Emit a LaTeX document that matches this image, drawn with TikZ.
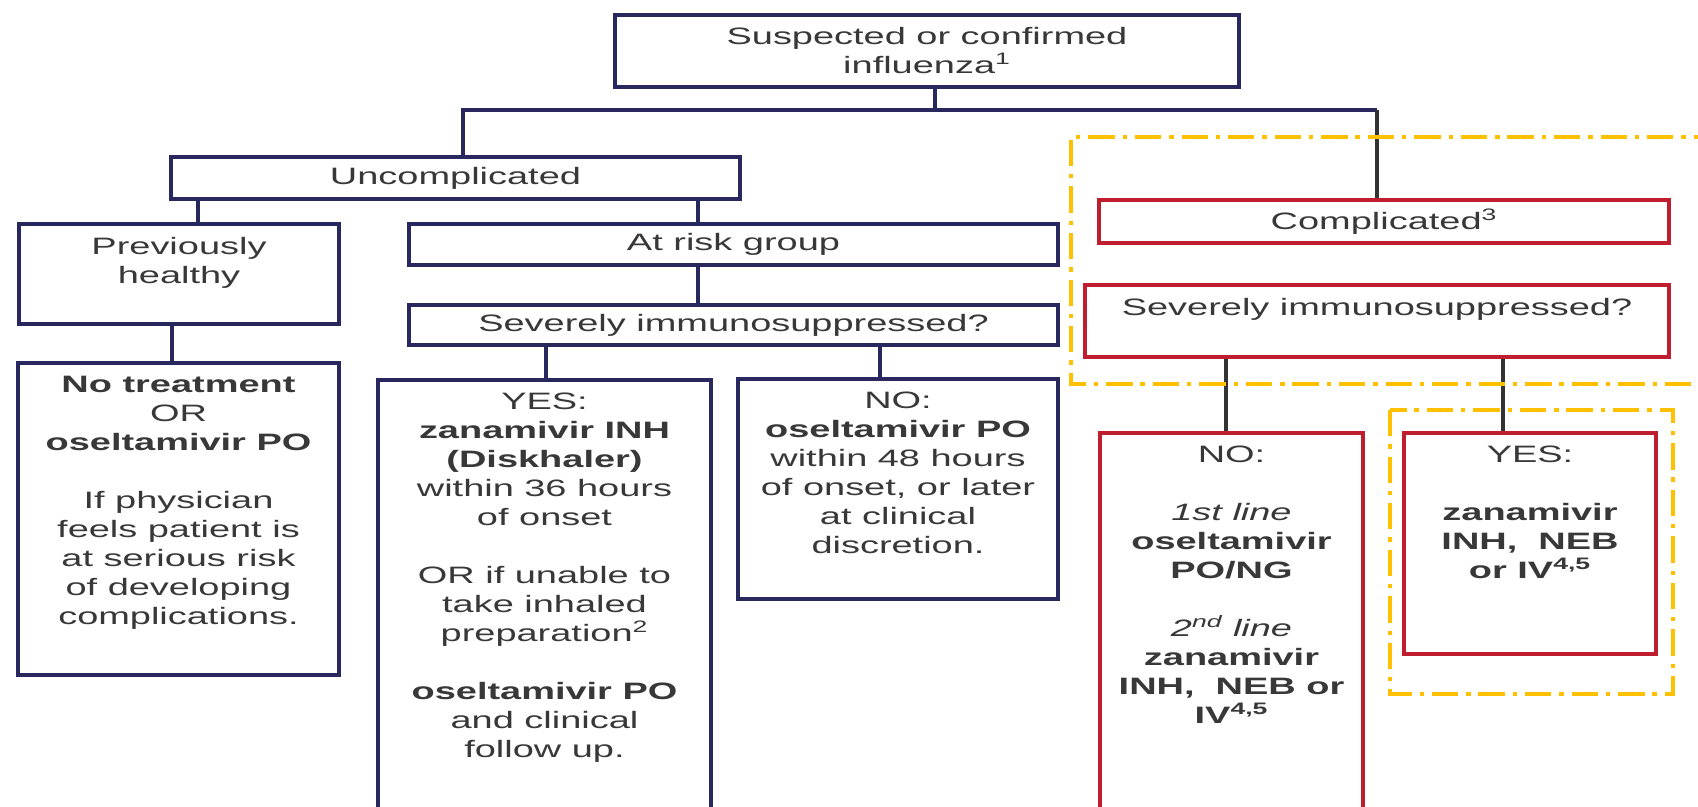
\documentclass[tikz,border=0pt]{standalone}
\usepackage{fontspec}
\setmainfont[FakeStretch=1.6]{Liberation Sans}
\usetikzlibrary{positioning}

\definecolor{fluNavy}{HTML}{28285F}
\definecolor{fluRed}{HTML}{BE1E2D}
\definecolor{fluAmber}{HTML}{FFC000}

\tikzset{
    bluebox/.style={draw=fluNavy, line width=2.4pt, fill=white},
    redbox/.style={draw=fluRed, line width=2.4pt, fill=white},
    txt/.style={align=center, inner sep=0pt, text=black!78, font=\fontsize{13.5}{16.5}\selectfont},
    bline/.style={draw=fluNavy, line width=1.8pt},
    gline/.style={draw=black!80, line width=1.8pt},
    zone/.style={draw=fluAmber, line width=2.2pt, dash pattern=on 15pt off 4.5pt on 2.5pt off 4.5pt}
}

\begin{document}
\begin{tikzpicture}[x=0.02cm, y=-0.02cm]

    % the frame
    \useasboundingbox (0,0) rectangle (1698,806);
    \path[clip] (0,0) rectangle (1698,806);

    % the boxes
    \node[bluebox, txt, minimum width=12.48cm, minimum height=1.44cm] (flu) at (927,51) {Suspected or confirmed\\influenza\textsuperscript{1}};
    \node[bluebox, txt, minimum width=11.38cm, minimum height=0.84cm] (uncomp) at (455.5,178) {Uncomplicated};
    \node[bluebox, minimum width=6.4cm, minimum height=2cm] (healthy) at (179,274) {};
    \node[bluebox, txt, minimum width=12.98cm, minimum height=0.82cm] (risk) at (733.5,244.5) {At risk group};
    \node[bluebox, txt, minimum width=12.98cm, minimum height=0.8cm] (sevb) at (733.5,325) {Severely immunosuppressed?};
    \node[bluebox, minimum width=6.42cm, minimum height=6.24cm] (notreat) at (178.5,519) {};
    \node[bluebox, minimum width=6.66cm, minimum height=9cm] (yesb) at (544.5,605) {};
    \node[bluebox, minimum width=6.4cm, minimum height=4.4cm] (nob) at (898,489) {};
    \node[redbox, txt, minimum width=11.4cm, minimum height=0.86cm] (comp) at (1384,221.5) {Complicated\textsuperscript{3}};
    \node[redbox, minimum width=11.68cm, minimum height=1.44cm] (sevr) at (1377,321) {};
    \node[redbox, minimum width=5.26cm, minimum height=7.94cm] (nor) at (1231.5,631.5) {};
    \node[redbox, minimum width=5.04cm, minimum height=4.42cm] (yesr) at (1530,543.5) {};

    % the texts
    \node[txt, below=0.3cm of healthy.north] (healthy-t) {Previously\\healthy};
    \node[txt, below=0.3cm of notreat.north] (notreat-t) {\textbf{No treatment}\\OR\\\textbf{oseltamivir PO}\\[16.5pt]If physician\\feels patient is\\at serious risk\\of developing\\complications.};
    \node[txt, below=0.3cm of yesb.north] (yesb-t) {YES:\\\textbf{zanamivir INH}\\\textbf{(Diskhaler)}\\within 36 hours\\of onset\\[16.5pt]OR if unable to\\take inhaled\\preparation\textsuperscript{2}\\[16.5pt]\textbf{oseltamivir PO}\\and clinical\\follow up.};
    \node[txt, below=0.3cm of nob.north] (nob-t) {NO:\\\textbf{oseltamivir PO}\\within 48 hours\\of onset, or later\\at clinical\\discretion.};
    \node[txt, below=0.3cm of sevr.north] (sevr-t) {Severely immunosuppressed?};
    \node[txt, below=0.3cm of nor.north] (nor-t) {NO:\\[16.5pt]\textit{1st line}\\\textbf{oseltamivir}\\\textbf{PO/NG}\\[16.5pt]\textit{2\textsuperscript{nd} line}\\\textbf{zanamivir}\\\textbf{INH,\ \ NEB or}\\\textbf{IV\textsuperscript{4,5}}};
    \node[txt, below=0.3cm of yesr.north] (yesr-t) {YES:\\[16.5pt]\textbf{zanamivir}\\\textbf{INH,\ \ NEB}\\\textbf{or IV\textsuperscript{4,5}}};

    % the links
    \coordinate (split) at (935,110);
    \coordinate (lx) at (463,0);
    \coordinate (rx) at (1377,0);
    \draw[bline] (flu.south -| split) -- (split);
    \draw[bline] (lx |- uncomp.north) |- (split) -- (split -| rx);
    \draw[gline] (split -| rx) -- (rx |- comp.north);

    \foreach \a/\b/\x in {uncomp/healthy/198, uncomp/risk/698, healthy/notreat/172, risk/sevb/698, sevb/yesb/546, sevb/nob/880} {
        \coordinate (dx) at (\x,0);
        \draw[bline] (\a.south -| dx) -- (\b.north -| dx);
    }
    \foreach \b/\x in {nor/1226, yesr/1503} {
        \coordinate (dx) at (\x,0);
        \draw[gline] (sevr.south -| dx) -- (\b.north -| dx);
    }

    % the highlights
    \draw[zone] (1720,137) -- (1071,137) -- (1071,384) -- (1720,384);
    \draw[zone] (1390,410) rectangle (1673,694);
\end{tikzpicture}
\end{document}
